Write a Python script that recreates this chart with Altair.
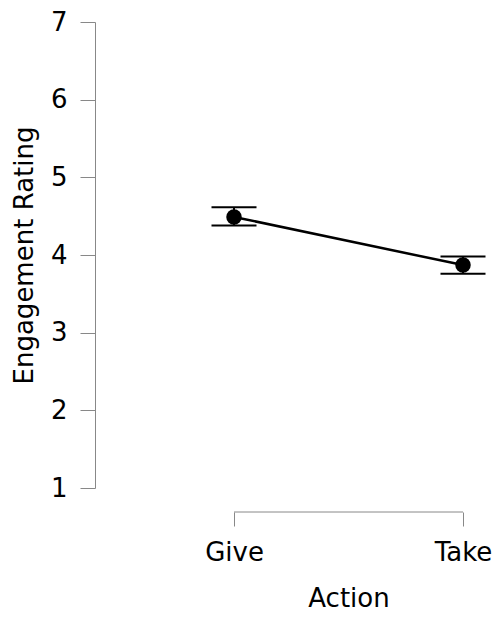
import altair as alt
import pandas as pd

actions = ["Give", "Take"]
means = [4.49, 3.87]
lower = [4.38, 3.76]
upper = [4.615, 3.98]
y_ticks = [1, 2, 3, 4, 5, 6, 7]

df = pd.DataFrame({"Action": actions, "mean": means, "lo": lower, "hi": upper})
axis_df = pd.DataFrame({"start": [actions[0]], "end": [actions[-1]]})

FONT = "DejaVu Sans"
H = 466
OFF = 24

xscale = alt.Scale(type="point", domain=actions, range=[139, 368], padding=0)
yscale = alt.Scale(domain=[1, 7], nice=False, zero=False)

base = alt.Chart(df)

x_enc = alt.X("Action:N", scale=xscale, sort=actions,
              axis=alt.Axis(title="Action", domain=False, offset=OFF, tickSize=14,
                            tickColor="#888888", tickWidth=1, labelAngle=0,
                            labelFontSize=26, titleFontSize=26, labelPadding=13,
                            titlePadding=20, labelFont=FONT, titleFont=FONT,
                            titleFontWeight="normal", labelColor="black", titleColor="black"))

line = base.mark_line(color="black", strokeWidth=2.5).encode(
    x=x_enc,
    y=alt.Y("mean:Q", scale=yscale,
            axis=alt.Axis(title="Engagement Rating", values=y_ticks, format="d",
                          grid=False, domainColor="#888888", tickColor="#888888",
                          tickSize=15, labelFontSize=26, titleFontSize=26,
                          labelPadding=13, titlePadding=13, labelFont=FONT, titleFont=FONT,
                          titleFontWeight="normal", labelColor="black", titleColor="black")),
)

vrule = base.mark_rule(color="black", strokeWidth=2, opacity=1).encode(
    x=alt.X("Action:N", scale=xscale, sort=actions), y="lo:Q", y2="hi:Q")

cap_lo = base.mark_tick(color="black", size=45, thickness=2, opacity=1, orient="horizontal").encode(
    x=alt.X("Action:N", scale=xscale, sort=actions), y=alt.Y("lo:Q", scale=yscale))
cap_hi = base.mark_tick(color="black", size=45, thickness=2, opacity=1, orient="horizontal").encode(
    x=alt.X("Action:N", scale=xscale, sort=actions), y=alt.Y("hi:Q", scale=yscale))

pts = base.mark_circle(color="black", opacity=1, size=240).encode(
    x=alt.X("Action:N", scale=xscale, sort=actions), y=alt.Y("mean:Q", scale=yscale))

xline = alt.Chart(axis_df).mark_rule(color="#888888", strokeWidth=1).encode(
    x=alt.X("start:N", scale=xscale, sort=actions),
    x2="end:N",
    y=alt.value(H + OFF),
)

chart = alt.layer(line, vrule, cap_lo, cap_hi, pts, xline).properties(
    width=395, height=H,
    autosize=alt.AutoSizeParams(type="none"),
    padding={"left": 87, "top": 14, "right": 5, "bottom": 124},
).configure_view(stroke=None)

chart.save("out.html", embed_options={"renderer": "svg", "actions": False})
